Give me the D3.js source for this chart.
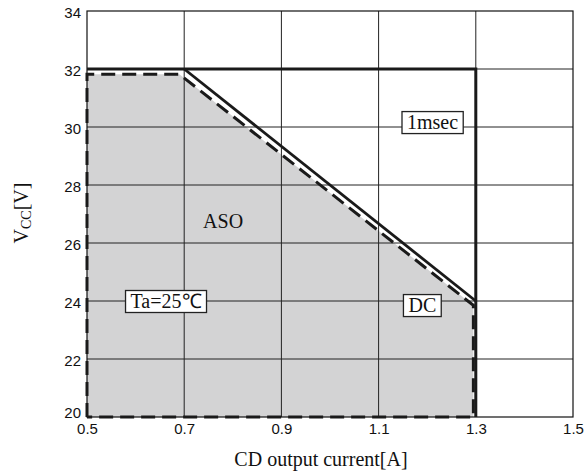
<!DOCTYPE html>
<html><head><meta charset="utf-8">
<script src="https://cdn.jsdelivr.net/npm/d3@7"></script>
<style>body{margin:0;background:#fff}</style>
</head><body>
<svg id="c" width="587" height="472"></svg>
<script>
const xTicks = [0.5, 0.7, 0.9, 1.1, 1.3, 1.5];
const yTicks = [20, 22, 24, 26, 28, 30, 32, 34];
// 1msec limit (solid)
const msecX = [0.5, 1.3, 1.3];
const msecY = [32, 32, 20];
// diagonal solid limit
const diagX = [0.7, 1.3];
const diagY = [32, 24];
// DC / ASO region (dashed, filled)
const dcX = [0.5, 0.5, 0.69, 1.295, 1.295, 0.5];
const dcY = [20, 31.82, 31.82, 23.85, 20, 20];
const labels = [
  {t: "1msec", x: 1.211, y: 30.17, box: true},
  {t: "DC", x: 1.190, y: 23.86, box: true},
  {t: "Ta=25℃", x: 0.6626, y: 24.0, box: true},
  {t: "ASO", x: 0.78, y: 26.75, box: false}
];

const svg = d3.select("#c");
const L = 87, R = 573, T = 11, B = 417;
const x = d3.scaleLinear().domain([0.5, 1.5]).range([L, R]);
const y = d3.scaleLinear().domain([20, 34]).range([B, T]);
const SERIF = "'Liberation Serif', 'Times New Roman', serif";
const SANS = "'Liberation Sans', Arial, sans-serif";

// fill
const line = d3.line().x(d => x(d[0])).y(d => y(d[1]));
const dcPts = dcX.map((v, i) => [v, dcY[i]]);
svg.append("path").attr("d", line(dcPts) + "Z").attr("fill", "#d3d3d4").attr("stroke", "none");

// grid
const g = svg.append("g");
g.selectAll(".vx").data(xTicks.slice(1, -1)).enter().append("line")
  .attr("x1", d => x(d)).attr("x2", d => x(d)).attr("y1", T).attr("y2", B)
  .attr("stroke", "#222").attr("stroke-width", 1);
g.selectAll(".hy").data(yTicks.slice(1, -1)).enter().append("line")
  .attr("x1", L).attr("x2", R).attr("y1", d => y(d)).attr("y2", d => y(d))
  .attr("stroke", "#222").attr("stroke-width", 1);

// axes
const xAxis = d3.axisBottom(x).tickValues(xTicks).tickSize(0).tickFormat(d3.format(".1f"));
const yAxis = d3.axisLeft(y).tickValues(yTicks).tickSize(0);
const gx = svg.append("g").attr("transform", `translate(0,${B})`).call(xAxis);
const gy = svg.append("g").attr("transform", `translate(${L},0)`).call(yAxis);
[gx, gy].forEach(a => {
  a.select(".domain").remove();
  a.selectAll("text").attr("font-family", SANS).attr("font-size", 15).attr("fill", "#111");
});
gx.selectAll("text").attr("dy", "0.71em").attr("y", 6);
gy.selectAll("text").attr("x", -6).attr("dy", d => d === 20 ? "0.05em" : "0.4em");

// frame
svg.append("rect").attr("x", L).attr("y", T).attr("width", R - L).attr("height", B - T)
  .attr("fill", "none").attr("stroke", "#111").attr("stroke-width", 1.2);

// dashed DC
svg.append("path").attr("d", line(dcPts)).attr("fill", "none")
  .attr("stroke", "#1a1a1a").attr("stroke-width", 3).attr("stroke-dasharray", "14,7");

// solid lines
svg.append("path").attr("d", line(msecX.map((v, i) => [v, msecY[i]]))).attr("fill", "none")
  .attr("stroke", "#1a1a1a").attr("stroke-width", 3);
svg.append("path").attr("d", line(diagX.map((v, i) => [v, diagY[i]]))).attr("fill", "none")
  .attr("stroke", "#1a1a1a").attr("stroke-width", 2.8);

// labels
labels.forEach(l => {
  const t = svg.append("text").attr("x", x(l.x)).attr("y", y(l.y)).attr("dy", "0.35em")
    .attr("text-anchor", "middle").attr("font-family", SERIF)
    .attr("font-size", 20).attr("fill", "#111").text(l.t);
  if (l.box) {
    const bb = t.node().getBBox();
    svg.insert("rect", () => t.node()).attr("x", bb.x - 5).attr("y", bb.y + 0.5)
      .attr("width", bb.width + 10).attr("height", bb.height)
      .attr("fill", "#fff").attr("stroke", "#222").attr("stroke-width", 1.3);
  }
});

// axis titles
svg.append("text").attr("x", 321).attr("y", 466).attr("text-anchor", "middle")
  .attr("font-family", SERIF).attr("font-size", 20).attr("fill", "#111")
  .text("CD output current[A]");
const yl = svg.append("text").attr("transform", "translate(28,213) rotate(-90)").attr("text-anchor", "middle")
  .attr("font-family", SERIF).attr("font-size", 20).attr("fill", "#111");
yl.append("tspan").text("V");
yl.append("tspan").attr("font-size", 14).attr("dy", 3).text("CC");
yl.append("tspan").attr("dy", -3).text("[V]");
</script>
</body></html>
